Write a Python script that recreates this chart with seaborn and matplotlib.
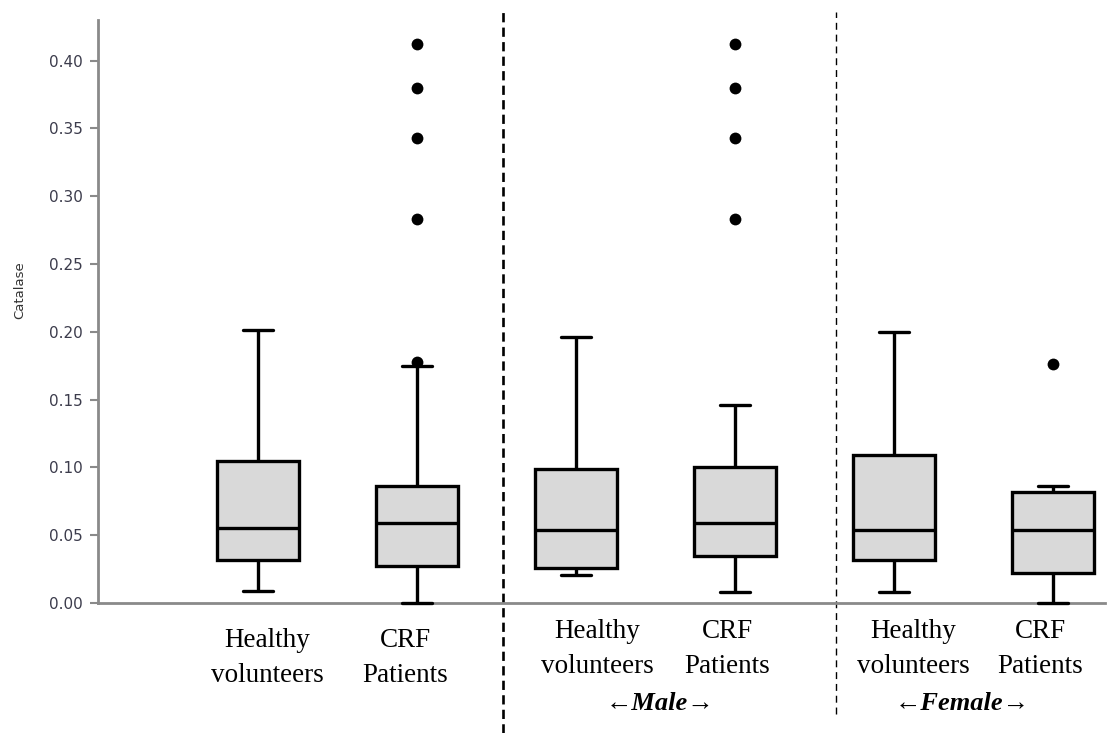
import numpy as np
import pandas as pd
import matplotlib
matplotlib.use("Agg")
import matplotlib.pyplot as plt
import seaborn as sns

# Catalase summary per group: whisker ends, quartiles and median
groups = ["all_healthy", "all_crf", "male_healthy", "male_crf", "female_healthy", "female_crf"]
whisker_low = [0.009, 0.000, 0.021, 0.008, 0.008, 0.000]
q1 = [0.032, 0.027, 0.026, 0.035, 0.032, 0.022]
median = [0.055, 0.059, 0.054, 0.059, 0.054, 0.054]
q3 = [0.105, 0.086, 0.099, 0.100, 0.109, 0.082]
whisker_high = [0.201, 0.175, 0.196, 0.146, 0.200, 0.086]

# Points beyond the whiskers
outlier_group = ["all_crf"] * 5 + ["male_crf"] * 4 + ["female_crf"]
outlier_value = [0.178, 0.283, 0.343, 0.380, 0.412,
                 0.283, 0.343, 0.380, 0.412,
                 0.176]

# Text under each box
group_labels = ["Healthy\nvolunteers", "CRF\nPatients"] * 3
section_labels = ["\u2190Male\u2192", "\u2190Female\u2192"]
y_ticks = [0.00, 0.05, 0.10, 0.15, 0.20, 0.25, 0.30, 0.35, 0.40]

# Long-form table: five summary values per group
box_df = pd.DataFrame({
    "group": np.repeat(groups, 5),
    "value": np.column_stack([whisker_low, q1, median, q3, whisker_high]).ravel(),
})
out_df = pd.DataFrame({"group": outlier_group, "value": outlier_value})

sns.set_theme(style="ticks")
plt.rcParams["font.family"] = ["DejaVu Sans"]

fig = plt.figure(figsize=(11.10, 7.33), dpi=100)
ax = fig.add_axes([98 / 1110, 1 - 603 / 733, 1007 / 1110, 583 / 733])

sns.boxplot(data=box_df, x="group", y="value", order=groups, ax=ax,
            width=0.51, color="#d9d9d9", saturation=1, linecolor="black",
            linewidth=2.4, whis=(0, 100), showfliers=False, capwidths=0.19)
# Let caps sitting on zero show fully above the baseline
for artist in list(ax.lines) + list(ax.patches):
    artist.set_clip_on(False)
    artist.set_zorder(3)

sns.stripplot(data=out_df, x="group", y="value", order=groups, ax=ax,
              jitter=False, color="black", size=8.5, zorder=4)

ax.set_xlim(-1.006, 5.327)
ax.set_ylim(0, 0.43)
ax.set_yticks(y_ticks)
ax.set_yticklabels([f"{v:.2f}" for v in y_ticks])
ax.set_xticks([])
ax.set_xlabel("")
ax.set_ylabel("Catalase", fontsize=9.5, color="#333333")
ax.yaxis.set_label_coords(-0.071, 0.537)

sns.despine(ax=ax)
for side in ("left", "bottom"):
    ax.spines[side].set_color("#8a8a8a")
    ax.spines[side].set_linewidth(2.0)
    ax.spines[side].set_zorder(2)
ax.tick_params(axis="y", length=6, width=1.5, color="#8a8a8a",
               labelsize=11, labelcolor="#3c3c4c", pad=5)

# Section separators reaching past the plotting area
ax.axvline(1.541, ymin=-0.223, ymax=1.014, clip_on=False,
           color="black", linewidth=1.9, dashes=(3.5, 2.0))
ax.axvline(3.635, ymin=-0.19, ymax=1.014, clip_on=False,
           color="black", linewidth=1.0, dashes=(5.0, 3.5))

# Category labels below the axis
serif = ["Liberation Serif", "DejaVu Serif"]
label_dx = [0.057, -0.075, 0.132, -0.05, 0.12, -0.082]
label_y = [-0.094, -0.094, -0.079, -0.079, -0.079, -0.079]
trans = ax.get_xaxis_transform()
for i, (txt, dx, ly) in enumerate(zip(group_labels, label_dx, label_y)):
    ax.text(i + dx, ly, txt, transform=trans, ha="center", va="center",
            fontsize=19.5, family=serif, linespacing=1.5, color="black")
for xpos, txt in zip([2.53, 4.43], section_labels):
    ax.text(xpos, -0.172, txt, transform=trans, ha="center", va="center",
            fontsize=19, family=serif, style="italic", weight="bold", color="black")

fig.savefig("out.png", dpi=100)
